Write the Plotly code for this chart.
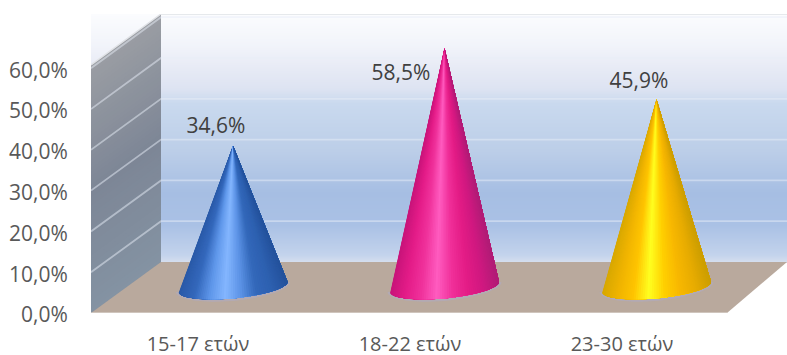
import plotly.graph_objects as go
from plotly.colors import sample_colorscale
import math

categories = ["15-17 ετών", "18-22 ετών", "23-30 ετών"]
values = [34.6, 58.5, 45.9]
value_labels = ["34,6%", "58,5%", "45,9%"]
y_ticks = [0, 10, 20, 30, 40, 50, 60]
y_tick_labels = ["0,0%", "10,0%", "20,0%", "30,0%", "40,0%", "50,0%", "60,0%"]

# layout geometry (x axis spans pixels, y axis spans percent)
W, H = 787, 355
X0, BACK_X, RIGHT_FRONT = 91, 161, 727
Y_FRONT, Y_TOP = 313, 14
PX_PER_UNIT = 4.08
DEPTH_UNITS = 12.5
Y_MAX = (Y_FRONT - Y_TOP) / PX_PER_UNIT
CONE_X = [233, 444.5, 656.5]
LABEL_X = [216, 401, 639]
LABEL_DY = [4.3, -6.6, 4.1]
TICK_X = [198, 410, 622]
BASE_UNITS = 6.4
A, B, TILT = 54.5, 11.5, 5.0

CONE_SHADES = [
    ["#2a5aa8", "#3468bc", "#5f97ea", "#84b6ff", "#5c93e6", "#3368ba", "#2d60b0", "#24529c"],
    ["#c8147a", "#e41c88", "#f0329c", "#ff5cc0", "#f0309a", "#e41c86", "#d01880", "#b01c76"],
    ["#d8a800", "#f0b400", "#ffc400", "#ffff20", "#ffd000", "#f8b800", "#e8ac00", "#cc9e00"],
]
WALL_STOPS = [
    (0.00, "#fbfcfe"), (0.12, "#f2f4fa"), (0.20, "#e9ecf6"), (0.30, "#dde3f2"),
    (0.36, "#c9d9ee"), (0.55, "#bccee8"), (0.72, "#a6bee3"), (0.85, "#aac1e5"),
    (0.97, "#c3d3ec"), (1.00, "#d6deee"),
]

def py(px):
    return (Y_FRONT - px) / PX_PER_UNIT

def mix(colors, u):
    n = len(colors) - 1
    return sample_colorscale([[i / n, c] for i, c in enumerate(colors)], [u])[0]

def base_point(cx, t, grow=0.0):
    return (cx - (A + grow) * math.cos(t),
            BASE_UNITS + (-(B + grow) * math.sin(t) - TILT * math.cos(t)) / PX_PER_UNIT)

fig = go.Figure()

# back wall
rows = list(range(Y_TOP, Y_FRONT - 51 + 1))
fig.add_trace(go.Heatmap(
    x=[BACK_X, W], y=[py(r) for r in rows], z=[[r, r] for r in rows],
    colorscale=[[s, c] for s, c in WALL_STOPS], showscale=False,
    hoverinfo="skip", zsmooth="best",
))

# side wall
SIDE_TOP = "#9a9da3"
SIDE_MID = "#7d8696"
SIDE_BOT = "#8493a3"
steps = 60
top = Y_MAX - DEPTH_UNITS
for i in range(steps):
    v1 = top * (1 - i / steps)
    col = mix([SIDE_TOP, SIDE_MID, SIDE_BOT], i / steps)
    fig.add_trace(go.Scatter(
        x=[X0, BACK_X, BACK_X, X0, X0],
        y=[v1, v1 + DEPTH_UNITS, DEPTH_UNITS, 0, v1],
        mode="lines", fill="toself", fillcolor=col,
        line=dict(width=0), hoverinfo="skip", showlegend=False,
    ))

# floor
fig.add_trace(go.Scatter(
    x=[X0, RIGHT_FRONT, W, BACK_X, X0],
    y=[0, 0, DEPTH_UNITS, DEPTH_UNITS, 0],
    mode="lines", fill="toself", fillcolor="#b9a99d",
    line=dict(width=0), hoverinfo="skip", showlegend=False,
))

# gridlines on both walls
for t in y_ticks[1:]:
    fig.add_trace(go.Scatter(
        x=[X0, BACK_X, W], y=[t, t + DEPTH_UNITS, t + DEPTH_UNITS],
        mode="lines", line=dict(width=1.8, color="rgba(232,238,248,0.5)"),
        hoverinfo="skip", showlegend=False,
    ))
fig.add_trace(go.Scatter(
    x=[X0, BACK_X, W], y=[Y_MAX - DEPTH_UNITS, Y_MAX, Y_MAX],
    mode="lines", line=dict(width=1.5, color="#e0e2e6"),
    hoverinfo="skip", showlegend=False,
))
fig.add_trace(go.Scatter(
    x=[X0, RIGHT_FRONT], y=[0, 0],
    mode="lines", line=dict(width=1.2, color="#e6e2de"),
    hoverinfo="skip", showlegend=False,
))

# cones: each wedge paints from its angle to the far edge, so no seams appear
N = 72
for cx, val, shades in zip(CONE_X, values, CONE_SHADES):
    tip_v = val + BASE_UNITS
    halo = [base_point(cx, math.pi * k / 40, grow=2.5) for k in range(41)]
    fig.add_trace(go.Scatter(
        x=[p[0] for p in halo], y=[p[1] for p in halo],
        mode="lines", fill="toself", fillcolor="rgba(178,170,185,0.8)",
        line=dict(width=0), hoverinfo="skip", showlegend=False,
    ))
    for k in range(N):
        t1 = math.pi * k / N
        u = (1 - math.cos(t1 + math.pi / (2 * N))) / 2
        col = mix(shades, u)
        pts = [base_point(cx, math.pi * j / N) for j in range(k, N + 1)]
        xs = [cx] + [p[0] for p in pts] + [cx]
        ys = [tip_v] + [p[1] for p in pts] + [tip_v]
        fig.add_trace(go.Scatter(
            x=xs, y=ys, mode="lines", fill="toself", fillcolor=col,
            line=dict(width=0), hoverinfo="skip", showlegend=False,
        ))

# value labels
fig.add_trace(go.Scatter(
    x=LABEL_X,
    y=[v + BASE_UNITS + d for v, d in zip(values, LABEL_DY)],
    mode="text", text=value_labels, textposition="middle center",
    textfont=dict(family="Open Sans", size=21, color="#404040"),
    hoverinfo="skip", showlegend=False, cliponaxis=False,
))

fig.update_layout(
    width=W, height=H, margin=dict(l=X0, r=0, t=Y_TOP, b=H - Y_FRONT),
    paper_bgcolor="white", plot_bgcolor="white", showlegend=False,
    font=dict(family="Open Sans", size=21, color="#595959"),
    xaxis=dict(range=[X0, W], showgrid=False, zeroline=False, showline=False,
               tickmode="array", tickvals=TICK_X, ticktext=categories,
               ticks="outside", ticklen=13, tickcolor="rgba(0,0,0,0)",
               tickfont=dict(size=20), tickangle=0, automargin=False),
    yaxis=dict(range=[0, Y_MAX], showgrid=False, zeroline=False, showline=False,
               tickmode="array", tickvals=y_ticks, ticktext=y_tick_labels,
               ticks="outside", ticklen=18, tickcolor="rgba(0,0,0,0)",
               ticklabelshift=2, automargin=False),
)
fig.write_html("out.html", config={"displayModeBar": False},
               post_script="document.body.style.margin='0';")
